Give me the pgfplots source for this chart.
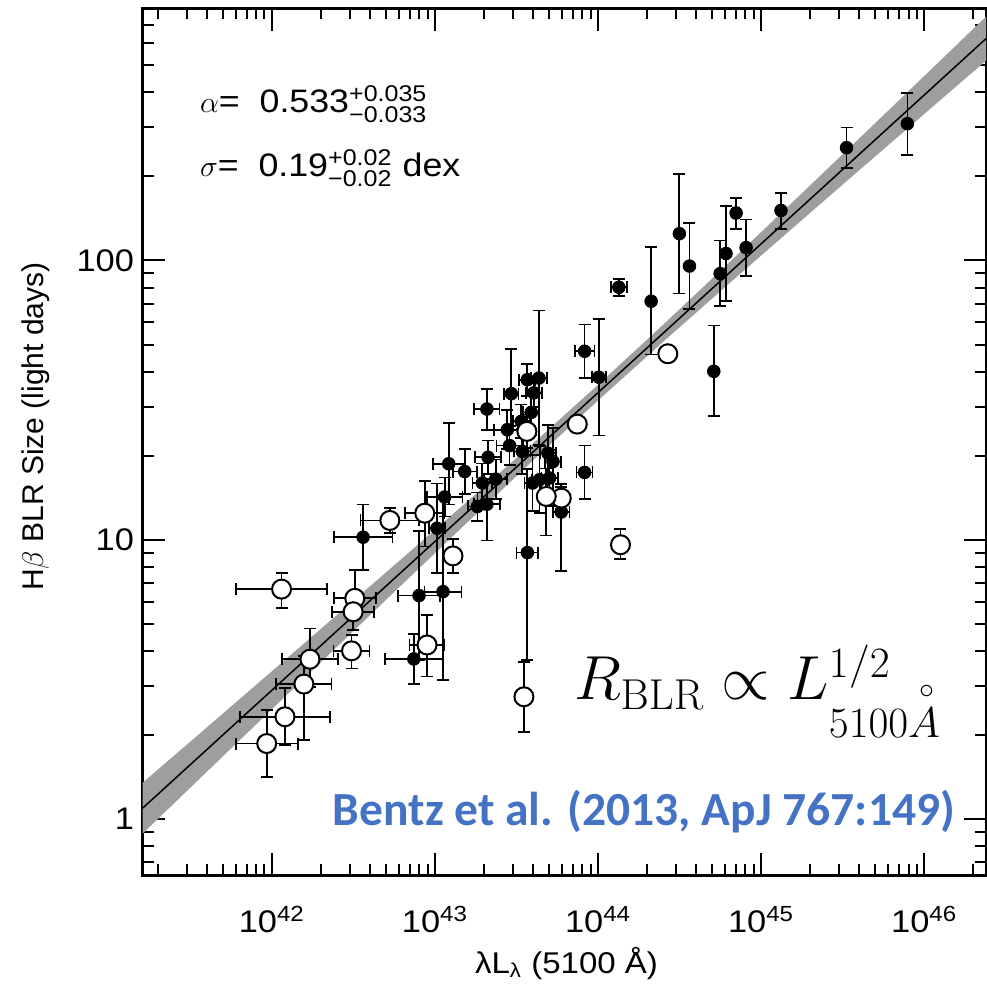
\documentclass[border=0pt]{standalone}
\usepackage[no-math]{fontspec}
\setmainfont{Liberation Sans}
\newfontfamily\pg{Liberation Sans}[FakeStretch=1.1]
\newfontfamily\carlito{Carlito}
\usepackage{amsmath}
\usepackage{pgfplots}
\usepackage{pgfplotstable}
\pgfplotsset{compat=1.18}
\definecolor{bentzblue}{RGB}{68,114,196}
\definecolor{bandgray}{gray}{0.62}

% log10(L) [erg/s], log10(R) [light days], errors in dex
\pgfplotstableread{
x y xe yp ym
45.896 2.490 0 0.111 0.113
45.523 2.404 0 0.072 0.074
45.121 2.179 0 0.063 0.065
44.846 2.170 0.02 0.053 0.056
44.907 2.046 0 0.101 0.102
44.784 2.025 0 0.170 0.171
44.748 1.953 0 0.119 0.117
44.560 1.980 0 0.153 0.153
44.498 2.096 0 0.215 0.214
44.325 1.854 0 0.194 0.191
44.127 1.904 0.049 0.030 0.032
44.709 1.603 0 0.164 0.161
43.917 1.675 0.061 0.096 0.096
44.004 1.582 0.043 0.209 0.209
43.917 1.241 0.049 0.096 0.094
43.774 1.099 0.05 0.10 0.21
43.637 1.579 0.05 0.242 0.24
43.566 1.573 0.05 0.057 0.057
43.468 1.523 0.043 0.161 0.13
43.318 1.468 0.077 0.072 0.075
43.606 1.526 0.05 0.05 0.05
43.590 1.456 0.05 0.08 0.08
43.529 1.424 0.05 0.06 0.06
43.443 1.394 0.08 0.07 0.07
43.457 1.337 0.08 0.07 0.07
43.535 1.316 0.05 0.08 0.08
43.325 1.295 0.08 0.06 0.06
43.084 1.272 0.098 0.146 0.146
43.182 1.244 0.073 0.08 0.08
43.290 1.203 0.06 0.07 0.07
43.372 1.217 0.07 0.07 0.07
43.692 1.310 0.05 0.10 0.10
43.723 1.280 0.05 0.12 0.12
43.598 1.203 0.05 0.10 0.10
43.641 1.215 0.05 0.12 0.12
43.702 1.221 0.05 0.10 0.10
43.059 1.153 0.11 0.07 0.07
43.012 1.041 0.05 0.16 0.16
43.260 1.119 0.06 0.05 0.053
43.318 1.127 0.08 0.08 0.13
43.566 0.954 0.067 0.30 0.385
42.902 0.800 0.13 0.23 0.23
43.049 0.814 0.113 0.33 0.317
42.870 0.573 0.177 0.09 0.09
42.559 1.009 0.18 0.117 0.117
}\filledpts

\pgfplotstableread{
x y xe yp ym
44.427 1.666 0 0.02 0.02
43.872 1.414 0.02 0.03 0.03
44.137 0.982 0 0.056 0.051
43.774 1.149 0.03 0.04 0.04
43.563 1.388 0.05 0.06 0.06
43.682 1.155 0.04 0.10 0.14
42.937 1.095 0.12 0.114 0.119
43.110 0.942 0.03 0.06 0.062
43.545 0.4375 0 0.1255 0.1255
42.951 0.623 0.107 0.108 0.113
42.059 0.823 0.28 0.058 0.067
42.508 0.790 0.128 0.101 0.05
42.498 0.742 0.13 0.05 0.066
42.488 0.602 0.11 0.056 0.063
42.233 0.572 0.17 0.11 0.10
42.196 0.483 0.17 0.10 0.20
42.080 0.366 0.276 0.102 0.102
41.968 0.270 0.19 0.12 0.12
42.723 1.069 0.18 0.044 0.045
}\openpts

\begin{document}
\begin{tikzpicture}
\begin{axis}[
  scale only axis, width=337.2pt, height=346.6pt,
  xmin=41.208, xmax=46.378, ymin=-0.2018, ymax=2.9025,
  xtick={42,43,44,45,46},
  xticklabels={10\textsuperscript{42},10\textsuperscript{43},10\textsuperscript{44},10\textsuperscript{45},10\textsuperscript{46}},
  ytick={0,1,2}, yticklabels={1,10,100},
  minor xtick={41.301,41.477,41.602,41.699,41.778,41.845,41.903,41.954,
    42.301,42.477,42.602,42.699,42.778,42.845,42.903,42.954,
    43.301,43.477,43.602,43.699,43.778,43.845,43.903,43.954,
    44.301,44.477,44.602,44.699,44.778,44.845,44.903,44.954,
    45.301,45.477,45.602,45.699,45.778,45.845,45.903,45.954,
    46.301},
  minor ytick={-0.1549,-0.0969,-0.0458,
    0.301,0.477,0.602,0.699,0.778,0.845,0.903,0.954,
    1.301,1.477,1.602,1.699,1.778,1.845,1.903,1.954,
    2.301,2.477,2.602,2.699,2.778,2.845},
  tick pos=both, tick align=inside,
  major tick length=8.8pt, minor tick length=4.4pt,
  tick style={black, line width=0.8pt},
  axis line style={line width=1pt},
  ticklabel style={font=\pg\fontsize{12.5}{14}\selectfont},
  xticklabel style={yshift=-9pt},
  clip=false,
  error bars/error bar style={line width=0.7pt},
  error bars/error mark options={rotate=90, mark size=2.4pt, line width=0.7pt},
]
% uncertainty band of the fit
\addplot[fill=bandgray, draw=none] coordinates {
 (41.208,0.1299) (41.6,0.3273) (42.0,0.529) (42.4,0.7312) (42.8,0.934)
 (43.2,1.138) (43.6,1.3444) (44.0,1.555) (44.4,1.7708) (44.8,1.9908)
 (45.2,2.2132) (45.6,2.4368) (46.0,2.661) (46.378,2.8734)
 (46.378,2.7156) (46.0,2.525) (45.6,2.3228) (45.2,2.12) (44.8,1.916)
 (44.4,1.7096) (44.0,1.499) (43.6,1.2832) (43.2,1.0632) (42.8,0.8408)
 (42.4,0.6172) (42.0,0.393) (41.6,0.1683) (41.208,-0.0521)};
% best fit
\addplot[black, line width=0.6pt] coordinates {(41.208,0.0389) (46.378,2.7945)};

\addplot[black, only marks, mark=*, mark size=2.5pt, mark options={fill=black, draw=black},
  error bars/.cd, x dir=both, x explicit, y dir=both, y explicit]
  table[x=x, y=y, x error=xe, y error plus=yp, y error minus=ym] {\filledpts};

\addplot[black, only marks, mark=*, mark size=3.8pt, mark options={fill=white, draw=black, line width=0.8pt},
  error bars/.cd, x dir=both, x explicit, y dir=both, y explicit]
  table[x=x, y=y, x error=xe, y error plus=yp, y error minus=ym] {\openpts};

\node[anchor=west, font=\pg\fontsize{13}{15}\selectfont] at (axis cs:41.505,2.560)
  {$\alpha$=\ \ 0.533$^{\text{+0.035}}_{\text{−0.033}}$};
\node[anchor=west, font=\pg\fontsize{13}{15}\selectfont] at (axis cs:41.505,2.330)
  {$\sigma$=\ \ 0.19$^{\text{+0.02}}_{\text{−0.02}}$ dex};

\node[anchor=base west, font=\fontsize{23}{28}\selectfont] at (axis cs:43.80,0.426)
  {$R_{\mathrm{BLR}} \propto L^{1/2}_{\lower 9pt\hbox{$\scriptstyle 5100A$}}$};
\node[font=\fontsize{13}{15}\selectfont] at (axis cs:46.017,0.454) {$\circ$};

\node[anchor=base, font=\carlito\bfseries\fontsize{19}{23}\selectfont, text=bentzblue]
  at (axis cs:44.281,-0.025) {Bentz et al. (2013, ApJ 767:149)};

\node[font=\pg\fontsize{12}{14}\selectfont] at (axis cs:43.806,-0.5175) {λL\textsubscript{λ} (5100 Å)};
\node[rotate=90, font=\fontsize{12}{14}\selectfont] at (axis cs:40.549,1.405) {H$\beta$ BLR Size (light days)};
\end{axis}
\pgfresetboundingbox
\path[use as bounding box] ([shift={(-57.08pt,-43.2pt)}]current axis.south west) rectangle ([shift={(0.4pt,3.4pt)}]current axis.north east);
\end{tikzpicture}
\end{document}
